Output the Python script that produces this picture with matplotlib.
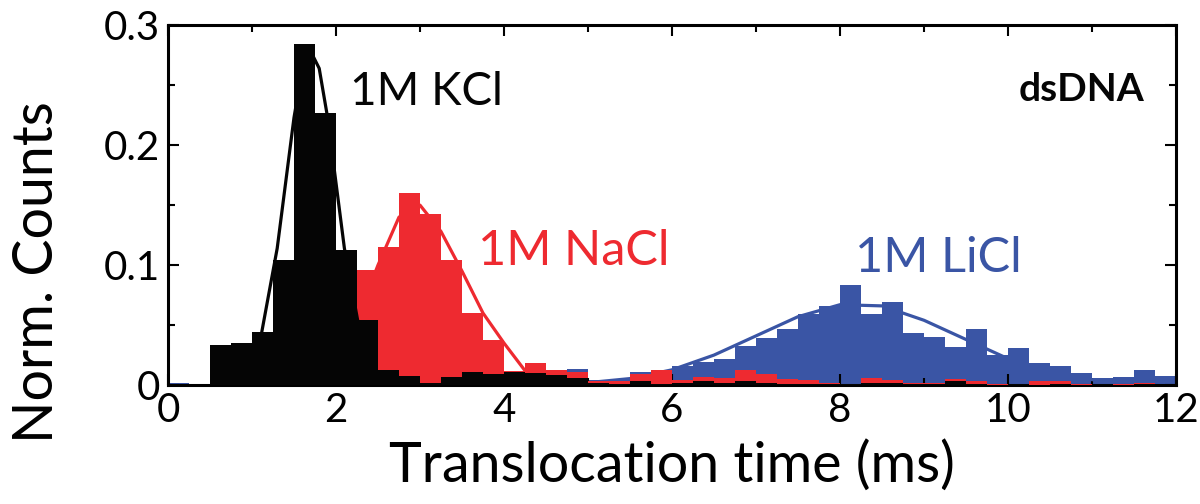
import numpy as np
from matplotlib import pyplot as plt
from matplotlib.ticker import MultipleLocator, FuncFormatter

plt.rcParams['font.family'] = ['Lato', 'DejaVu Sans']

# histogram bins: 0.25 ms wide, 0 .. 12 ms
bin_width = 0.25
n_bins = 48

kcl_counts = [0, 0, 0.033, 0.035, 0.044, 0.104, 0.284, 0.227,
              0.1125, 0.054, 0.0125, 0.0075, 0.0015, 0.0065, 0.011, 0.009,
              0.011, 0.010, 0.008, 0.006, 0.0015, 0.001, 0.003, 0.001,
              0.002, 0.003, 0.002, 0.003, 0.002, 0.001, 0.001, 0.001,
              0.001, 0.002, 0.002, 0.001, 0.001, 0.003, 0.001, 0,
              0.001, 0, 0.001, 0, 0.001, 0, 0.001, 0]
nacl_counts = [0, 0, 0, 0, 0, 0, 0.005, 0.02,
               0.06, 0.096, 0.115, 0.160, 0.143, 0.104, 0.06, 0.0375,
               0.012, 0.018, 0.0125, 0.011, 0.003, 0.003, 0.009, 0.0125,
               0.004, 0.007, 0.006, 0.0125, 0.009, 0.005, 0.004, 0.002,
               0.001, 0.006, 0.004, 0.0015, 0.002, 0.005, 0.003, 0.001,
               0.001, 0.003, 0.003, 0.001, 0, 0.001, 0.002, 0]
licl_counts = [0.002, 0.001, 0.001, 0.001, 0.001, 0.001, 0.001, 0.001,
               0.001, 0.001, 0.001, 0.001, 0.001, 0.001, 0.001, 0.002,
               0.002, 0.003, 0.010, 0.013, 0.004, 0.005, 0.011, 0.012,
               0.016, 0.019, 0.022, 0.0325, 0.039, 0.047, 0.059, 0.066,
               0.083, 0.059, 0.069, 0.043, 0.040, 0.032, 0.047, 0.025,
               0.031, 0.0186, 0.016, 0.0097, 0.0056, 0.007, 0.0125, 0.0075]

# gaussian fit curves
kcl_fit_x = [0.9, 1.1, 1.3, 1.5, 1.6, 1.7, 1.8, 1.9, 2.1, 2.3, 2.5]
kcl_fit_y = [0.008, 0.038, 0.114, 0.223, 0.264, 0.278, 0.264, 0.223, 0.114, 0.038, 0.008]
nacl_fit_x = [2.0, 2.25, 2.5, 2.75, 3.0, 3.25, 3.5, 3.75, 4.0, 4.25, 4.5]
nacl_fit_y = [0.02, 0.055, 0.10, 0.140, 0.150, 0.128, 0.095, 0.06, 0.035, 0.012, 0.004]
licl_fit_x = [5.0, 5.5, 6.0, 6.5, 7.0, 7.5, 8.0, 8.5, 9.0, 9.5, 10.0, 10.5, 11.0, 11.5]
licl_fit_y = [0.002, 0.0054, 0.0127, 0.025, 0.041, 0.057, 0.067, 0.066, 0.054,
              0.038, 0.022, 0.0108, 0.0045, 0.0015]

black = '#050505'
red = '#EE2A30'
blue = '#3A55A5'

edges = np.arange(n_bins + 1) * bin_width

fig = plt.figure(figsize=(12, 5.04), dpi=100)
ax = fig.add_axes([0.14, 0.236, 0.84, 0.714])

ax.stairs(licl_counts, edges, fill=True, color=blue, zorder=1)
ax.plot(licl_fit_x, licl_fit_y, color=blue, lw=2.3, zorder=2)
ax.stairs(nacl_counts, edges, fill=True, color=red, zorder=3)
ax.plot(nacl_fit_x, nacl_fit_y, color=red, lw=2.3, zorder=4)
ax.stairs(kcl_counts, edges, fill=True, color=black, zorder=5)
ax.plot(kcl_fit_x, kcl_fit_y, color=black, lw=2.3, zorder=6)

ax.text(2.17, 0.244, '1M KCl', color=black, fontsize=33, va='center', ha='left')
ax.text(3.69, 0.112, '1M NaCl', color=red, fontsize=35, va='center', ha='left')
ax.text(8.18, 0.106, '1M LiCl', color=blue, fontsize=35, va='center', ha='left')
ax.text(11.62, 0.246, 'dsDNA', color=black, fontsize=28, fontweight='bold',
        va='center', ha='right')

ax.set_xlim(0, 12)
ax.set_ylim(0, 0.3)
ax.xaxis.set_major_locator(MultipleLocator(2))
ax.xaxis.set_minor_locator(MultipleLocator(1))
ax.yaxis.set_major_locator(MultipleLocator(0.1))
ax.yaxis.set_minor_locator(MultipleLocator(0.05))
ax.yaxis.set_major_formatter(FuncFormatter(lambda v, p: '0' if v == 0 else '%.1f' % v))

ax.tick_params(which='both', direction='in', top=True, right=True, width=1.5,
               labelsize=29, colors='black')
ax.tick_params(which='major', length=8)
ax.tick_params(which='minor', length=5)
ax.tick_params(axis='x', pad=5)
ax.tick_params(axis='y', pad=6)
for s in ax.spines.values():
    s.set_linewidth(2.2)

ax.set_xlabel('Translocation time (ms)', fontsize=40, labelpad=8)
ax.set_ylabel('Norm. Counts', fontsize=40)
ax.yaxis.set_label_coords(-0.104, 0.315)

fig.savefig('out.png', dpi=100)
